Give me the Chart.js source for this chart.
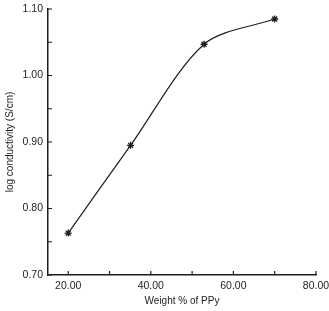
<!DOCTYPE html>
<html>
<head>
<meta charset="utf-8">
<script src="https://cdn.jsdelivr.net/npm/chart.js@4"></script>
<style>
  html, body { margin: 0; padding: 0; background: #fff; }
  #wrap { width: 329px; height: 311px; }
</style>
</head>
<body>
<div id="wrap"><canvas id="chart"></canvas></div>
<script>
// Data
const weightPct = [20, 35.1, 52.9, 70];
const logCond = [0.763, 0.895, 1.047, 1.085];
const xTicks = [20, 30, 40, 50, 60, 70, 80];
const yTicks = [0.70, 0.75, 0.80, 0.85, 0.90, 0.95, 1.00, 1.05, 1.10];

const ink = '#1e1e1e';
const font = { family: '"Liberation Sans", Arial, sans-serif', size: 10.5 };

// short inward tick marks on both axes
const inwardTicks = {
    id: 'inwardTicks',
    afterDraw(chart) {
        const ctx = chart.ctx;
        const xs = chart.scales.x, ys = chart.scales.y;
        ctx.save();
        ctx.strokeStyle = ink;
        ctx.lineWidth = 1.2;
        ctx.beginPath();
        xTicks.forEach(v => {
            const px = xs.getPixelForValue(v);
            ctx.moveTo(px, ys.bottom);
            ctx.lineTo(px, ys.bottom - 4);
        });
        yTicks.forEach(v => {
            const py = ys.getPixelForValue(v);
            ctx.moveTo(xs.left, py);
            ctx.lineTo(xs.left + 4, py);
        });
        ctx.stroke();
        ctx.restore();
    }
};

new Chart(document.getElementById('chart').getContext('2d'), {
    type: 'line',
    data: {
        datasets: [{
            data: weightPct.map((x, i) => ({ x: x, y: logCond[i] })),
            borderColor: ink,
            borderWidth: 1.2,
            tension: 0.3,
            pointStyle: 'star',
            pointRadius: 3.5,
            pointBorderWidth: 1.3,
            pointBorderColor: ink,
            pointBackgroundColor: ink,
            fill: false
        }]
    },
    options: {
        responsive: true,
        maintainAspectRatio: false,
        animation: false,
        layout: { padding: { top: 9, right: 13, left: 0, bottom: 0 } },
        plugins: {
            legend: { display: false },
            tooltip: { enabled: false }
        },
        scales: {
            x: {
                type: 'linear',
                min: 15.1,
                max: 80,
                afterBuildTicks: s => { s.ticks = xTicks.map(v => ({ value: v })); },
                afterFit: s => { s.height = 36; s.paddingLeft = 0; s.paddingRight = 0; },
                grid: { display: false, drawTicks: false },
                border: { display: true, color: ink, width: 1.5 },
                ticks: {
                    color: ink,
                    font: font,
                    padding: 5,
                    maxRotation: 0,
                    autoSkip: false,
                    callback: v => (v % 20 === 0 ? v.toFixed(2) : '')
                },
                title: {
                    display: true,
                    text: 'Weight % of PPy',
                    color: ink,
                    font: { family: font.family, size: 10 },
                    padding: { top: 0, bottom: 4 }
                }
            },
            y: {
                min: 0.70,
                max: 1.10,
                afterBuildTicks: s => { s.ticks = yTicks.map(v => ({ value: v })); },
                afterFit: s => { s.width = 48; s.paddingTop = 0; s.paddingBottom = 0; },
                grid: { display: false, drawTicks: false },
                border: { display: true, color: ink, width: 1.5 },
                ticks: {
                    color: ink,
                    font: font,
                    padding: 5,
                    autoSkip: false,
                    callback: v => (Math.round(v * 100) % 10 === 0 ? v.toFixed(2) : '')
                },
                title: {
                    display: true,
                    text: 'log conductivity (S/cm)',
                    color: ink,
                    font: { family: font.family, size: 10 },
                    padding: { top: 4, bottom: 0 }
                }
            }
        }
    },
    plugins: [inwardTicks]
});
</script>
</body>
</html>
